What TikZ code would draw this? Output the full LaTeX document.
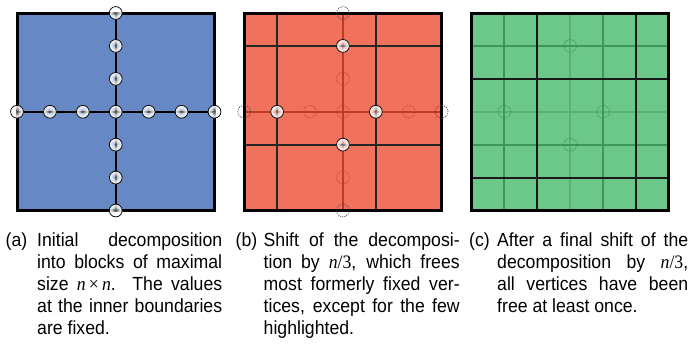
\documentclass[tikz,border=0pt]{standalone}
\usepackage{fontspec}
\setmainfont[FakeStretch=0.93]{Liberation Sans}
\newfontfamily\tms[FakeStretch=0.93]{Liberation Serif}

\definecolor{fillA}{RGB}{102,136,196}
\definecolor{fillB}{RGB}{240,114,92}
\definecolor{fillC}{RGB}{108,200,138}
\definecolor{lineB}{RGB}{192,58,38}
\definecolor{dotB}{RGB}{185,62,45}
\definecolor{lineCold}{RGB}{88,178,114}
\definecolor{lineCmid}{RGB}{62,150,88}
\definecolor{dotC}{RGB}{52,138,76}

\newcommand\nvar{{\tms\itshape n}}
\newcommand\tmsr[1]{{\tms #1}}

\tikzset{
  outerframe/.style={line width=3pt, black},
  blockline/.style={line width=2pt, black},
  softblock/.style={line width=2pt, black!85},
  freed/.style={line width=0.8pt, dash pattern=on 0.9pt off 1.2pt},
  % fixed vertex: white rim getting denser towards the edge, see-through centre
  fixedvtx/.pic={
    \foreach \ri in {0,1.2,2.2,3.1,3.9,4.6,5.2,5.7}
      { \fill[white, opacity=0.27, even odd rule] (0,0) circle (6.4pt) circle (\ri pt); }
    \draw[line width=0.75pt, black] (0,0) circle (6.4pt);
  },
  label/.style={anchor=base west, inner sep=0pt, font=\fontsize{19}{22.2}\selectfont},
  captext/.style={anchor=base west, inner sep=0pt, align=justify,
    font=\fontsize{19}{22.2}\selectfont}
}

\begin{document}
\begin{tikzpicture}[x=1pt, y=-1pt]
\useasboundingbox (0,0) rectangle (694,346);

% (a) initial decomposition
\begin{scope}[shift={(17pt,-13pt)}, x=197.5pt, y=-197.5pt]
  \fill[fillA] (0,0) rectangle (1,1);
  \draw[blockline] (0.5,0) -- (0.5,1);
  \draw[blockline] (0,0.5) -- (1,0.5);
  \draw[outerframe] (0,0) rectangle (1,1);
  \foreach \k in {0,...,6} { \pic at (0.5,\k/6) {fixedvtx}; }
  \foreach \k in {0,1,2,4,5,6} { \pic at (\k/6,0.5) {fixedvtx}; }
\end{scope}

% (b) shifted by n/3
\begin{scope}[shift={(244.2pt,-13pt)}, x=197.5pt, y=-197.5pt]
  \fill[fillB] (0,0) rectangle (1,1);
  \draw[line width=2pt, lineB] (0.5,0) -- (0.5,1);
  \draw[line width=2pt, lineB] (0,0.5) -- (1,0.5);
  \foreach \p in {1/6,2/3} {
    \draw[softblock] (\p,0) -- (\p,1);
    \draw[softblock] (0,\p) -- (1,\p);
  }
  \draw[outerframe] (0,0) rectangle (1,1);
  \foreach \q in {(0.5,0),(0.5,1),(0,0.5),(1,0.5)}
    { \draw[freed, black!75] \q circle (6.4pt); }
  \foreach \q in {(0.5,2/6),(0.5,3/6),(0.5,5/6),(2/6,0.5),(5/6,0.5)}
    { \draw[freed, dotB] \q circle (6.4pt); }
  \foreach \q in {(0.5,1/6),(1/6,0.5),(4/6,0.5),(0.5,4/6)}
    { \pic at \q {fixedvtx}; }
\end{scope}

% (c) after the second shift
\begin{scope}[shift={(471.4pt,-13pt)}, x=197.5pt, y=-197.5pt]
  \fill[fillC] (0,0) rectangle (1,1);
  \draw[line width=2pt, lineCold] (0.5,0) -- (0.5,1);
  \draw[line width=2pt, lineCold] (0,0.5) -- (1,0.5);
  \foreach \p in {1/6,2/3} {
    \draw[line width=2pt, lineCmid] (\p,0) -- (\p,1);
    \draw[line width=2pt, lineCmid] (0,\p) -- (1,\p);
  }
  \foreach \p in {1/3,5/6} {
    \draw[blockline, black!90] (\p,0) -- (\p,1);
    \draw[blockline, black!90] (0,\p) -- (1,\p);
  }
  \draw[outerframe] (0,0) rectangle (1,1);
  \foreach \q in {(0.5,1/6),(1/6,0.5),(4/6,0.5),(0.5,4/6)}
    { \draw[freed, dotC] \q circle (6.4pt); }
\end{scope}

% captions
\node[label] (la) at (5.5,246) {(a)};
\node[captext, text width=185pt] (ca) at (37,246) {%
  Initial decomposition\linebreak
  into blocks of maximal\linebreak
  size \nvar\,\tmsr{×}\,\nvar. The values\linebreak
  at the inner boundaries\linebreak
  are fixed.};

\node[label] (lb) at (235.5,246) {(b)};
\node[captext, text width=196pt] (cb) at (263.5,246) {%
  Shift of the decomposi-\linebreak
  tion by \nvar\tmsr{/3}, which frees\linebreak
  most formerly fixed ver-\linebreak
  tices, except for the few\linebreak
  highlighted.};

\node[label] (lc) at (469,246) {(c)};
\node[captext, text width=191pt] (cc) at (497,246) {%
  After a final shift of the\linebreak
  decomposition by \nvar\tmsr{/3},\linebreak
  all vertices have been\linebreak
  free at least once.};
\end{tikzpicture}
\end{document}
